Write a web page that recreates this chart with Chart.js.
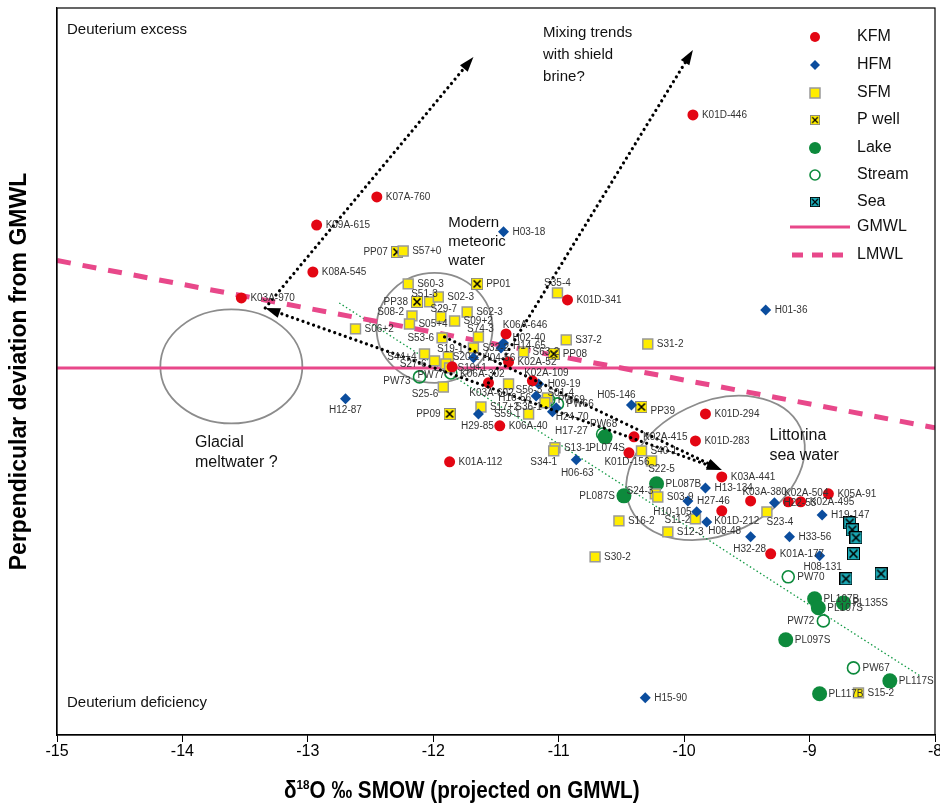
<!DOCTYPE html>
<html>
<head>
<meta charset="utf-8">
<script src="https://cdn.jsdelivr.net/npm/chart.js@4.4.0/dist/chart.umd.min.js"></script>
<style>body{margin:0;background:#fff}</style>
</head>
<body>
<canvas id="chart" width="940" height="805"></canvas>
<script>
// data (x = d18O projected, y = deviation from GMWL)
const kfmNames = ["K01D-446","K07A-760","K09A-615","K08A-545","K03A-970","K01D-341","K06A-646","K02A-52","K06A-302","K03A-602","K02A-109","K06A-40","K01A-112","K02A-415","K01D-156","K01D-294","K01D-283","K03A-441","K03A-380","K02A-504","K02A-495","K05A-91","K01D-212","K01A-177"];
const kfmX = [-9.93,-12.45,-12.93,-12.96,-13.53,-10.93,-11.42,-11.40,-11.85,-11.56,-11.21,-11.47,-11.87,-10.40,-10.44,-9.83,-9.91,-9.70,-9.47,-9.17,-9.07,-8.85,-9.70,-9.31];
const kfmY = [14.06,9.5,7.94,5.33,3.89,3.78,1.89,0.33,0.06,-0.83,-0.72,-3.22,-5.22,-3.83,-4.72,-2.56,-4.06,-6.06,-7.39,-7.44,-7.44,-7.0,-7.94,-10.33];

const hfmNames = ["H03-18","H01-36","H12-87","H02-40","H14-65","H04-56","H09-19","H16-56","H29-85","H24-70","H17-27","H05-146","H06-63","H13-134","H27-46","H10-105","H08-48","H32-28","H22-53","H19-147","H33-56","H08-131","H15-90"];
const hfmX = [-11.44,-9.35,-12.70,-11.44,-11.46,-11.68,-11.16,-11.18,-11.64,-11.02,-11.05,-10.42,-10.86,-9.83,-9.97,-9.90,-9.82,-9.47,-9.28,-8.90,-9.16,-8.92,-10.31];
const hfmY = [7.56,3.22,-1.72,1.39,1.11,0.56,-0.89,-1.56,-2.56,-2.22,-2.44,-2.06,-5.11,-6.67,-7.39,-8.0,-8.56,-9.39,-7.5,-8.17,-9.39,-10.44,-18.33];

const sfmNames = ["S60-3","S51-3","S02-3","S08-2","S05+4","S29-7","S09+2","S62-3","S06+2","S74-3","S53-6","S32-2","S44+4","S27-6","S19-1","S20-2","S19+1","S25-6","S56-3","S17+2","S59-1","S01-4","S36-1","S63-2","S37-2","S31-2","S35-4","S57+0","S13-1","S34-1","S40-1","S22-5","S24-3","S03-9","S11-2","S16-2","S12-3","S30-2","S23-4","S15-2"];
const sfmX = [-12.20,-12.03,-11.96,-12.17,-12.19,-11.94,-11.83,-11.73,-12.62,-11.64,-11.93,-11.68,-12.07,-11.99,-11.88,-11.90,-11.87,-11.92,-11.40,-11.62,-11.24,-11.09,-11.11,-11.28,-10.94,-10.29,-11.01,-12.24,-11.03,-11.04,-10.34,-10.26,-10.23,-10.21,-9.91,-10.52,-10.13,-10.71,-9.34,-8.61];
const sfmY = [4.67,3.67,3.94,2.89,2.44,2.83,2.61,3.11,2.17,1.72,1.67,1.11,0.78,0.39,0.61,0.22,0.0,-1.06,-0.89,-2.17,-2.56,-1.67,-1.94,0.89,1.56,1.33,4.17,6.5,-4.44,-4.61,-4.61,-5.17,-7.0,-7.17,-8.39,-8.5,-9.11,-10.5,-8.0,-18.06];

const pwellNames = ["PP07","PP38","PP01","PP08","PP09","PP39"];
const pwellX = [-12.29,-12.13,-11.65,-11.04,-11.87,-10.34];
const pwellY = [6.44,3.67,4.67,0.78,-2.56,-2.17];

const lakeNames = ["PL074S","PL087B","PL087S","PL107B","PL107S","PL135S","PL097S","PL117S","PL117B"];
const lakeX = [-10.63,-10.22,-10.48,-8.96,-8.93,-8.73,-9.19,-8.36,-8.92];
const lakeY = [-3.83,-6.44,-7.11,-12.83,-13.33,-13.06,-15.11,-17.39,-18.11];

const streamNames = ["PW73","PW77","PW69","PW66","PW68","PW70","PW72","PW67"];
const streamX = [-12.11,-11.86,-11.08,-11.01,-10.65,-9.17,-8.89,-8.65];
const streamY = [-0.5,-0.28,-1.78,-2.0,-3.67,-11.61,-14.06,-16.67];

const seaX = [-8.68,-8.66,-8.63,-8.65,-8.71,-8.43];
const seaY = [-8.61,-9.0,-9.44,-10.33,-11.72,-11.44];

// reference lines
const gmwlX = [-15, -8];
const gmwlY = [0, 0];
const lmwlX = [-15, -8];
const lmwlY = [5.97, -3.33];
const trendX = [-12.75, -8.12];
const trendY = [3.61, -17.11];

// label placement exceptions [dx, dy, align]; default is to the right
const labelPos = {
  "K03A-380": [14,-9,"center"], "K02A-504": [18,-9,"center"], "K06A-302": [8,7,"left"],
  "K03A-602": [3,10,"center"], "K02A-109": [14,-8,"center"], "K06A-646": [19,-9,"center"],
  "K01D-156": [-2,9,"center"], "K01D-212": [15,10,"center"],
  "H12-87": [0,11,"center"], "H02-40": [9,-5,"left"], "H14-65": [12,-2,"left"],
  "H16-56": [-5,2,"right"], "H29-85": [-1,12,"center"], "H24-70": [16,9,"center"],
  "H17-27": [19,19,"center"], "H05-146": [-15,-10,"center"], "H06-63": [1,13,"center"],
  "H10-105": [-5,0,"right"], "H08-48": [18,9,"center"], "H32-28": [-1,12,"center"],
  "H08-131": [3,11,"center"],
  "S51-3": [-5,-8,"center"], "S08-2": [-8,-4,"right"], "S29-7": [3,-8,"center"],
  "S74-3": [2,-8,"center"], "S53-6": [-8,0,"right"], "S44+4": [-8,3,"right"],
  "S27-6": [-8,3,"right"], "S19-1": [2,-8,"center"], "S20-2": [7,-7,"left"],
  "S19+1": [8,0,"left"], "S25-6": [-5,7,"right"], "S56-3": [7,6,"left"],
  "S59-1": [-8,0,"right"], "S01-4": [0,-5,"left"], "S36-1": [-3,4,"right"],
  "S35-4": [0,-10,"center"], "S34-1": [-10,11,"center"], "S22-5": [10,8,"center"],
  "S24-3": [-2,-3,"right"], "S11-2": [-5,1,"right"], "S23-4": [13,10,"center"],
  "PP07": [-9,0,"right"], "PP38": [-9,0,"right"], "PP09": [-9,0,"right"], "PP39": [9,4,"left"],
  "PL074S": [2,11,"center"], "PL087S": [-9,0,"right"],
  "PW73": [-9,4,"right"], "PW77": [-6,2,"right"], "PW68": [1,-10,"center"], "PW72": [-9,0,"right"]
};

function pts(names, xs, ys) {
  return xs.map((x, i) => ({ x: x, y: ys[i], name: names ? names[i] : null }));
}

function boxCross(size, fill, edge) {
  const c = document.createElement("canvas");
  c.width = size; c.height = size;
  const g = c.getContext("2d");
  g.fillStyle = fill;
  g.fillRect(0.5, 0.5, size - 1, size - 1);
  g.strokeStyle = edge;
  g.lineWidth = 1;
  g.strokeRect(0.5, 0.5, size - 1, size - 1);
  g.strokeStyle = "#000";
  g.lineWidth = 1.6;
  g.beginPath();
  g.moveTo(2.5, 2.5); g.lineTo(size - 2.5, size - 2.5);
  g.moveTo(size - 2.5, 2.5); g.lineTo(2.5, size - 2.5);
  g.stroke();
  return c;
}
const pwellIcon = boxCross(12, "#ffed00", "#888");
const seaIcon = boxCross(13, "#1ba9b5", "#000");

const txt = '"Liberation Sans", Arial, sans-serif';

// decorations: ellipses, arrows, notes, point labels, legend, frame
const deco = {
  id: "deco",
  beforeDatasetsDraw(chart) {
    const ctx = chart.ctx, xs = chart.scales.x, ys = chart.scales.y;
    const ell = (cx, cy, rx, ry, rot) => {
      ctx.beginPath();
      ctx.ellipse(xs.getPixelForValue(cx), ys.getPixelForValue(cy), rx, ry, rot, 0, Math.PI * 2);
      ctx.stroke();
    };
    ctx.save();
    ctx.strokeStyle = "#8c8c8c";
    ctx.lineWidth = 1.8;
    ell(-13.61, 0.08, 71, 57, 0);
    ell(-11.99, 2.22, 58, 55, 0);
    ell(-9.75, -5.56, 94, 66, -0.45);
    ctx.restore();
  },
  afterDatasetsDraw(chart) {
    const ctx = chart.ctx, xs = chart.scales.x, ys = chart.scales.y;
    const P = (x, y) => [xs.getPixelForValue(x), ys.getPixelForValue(y)];
    ctx.save();
    // dotted arrows
    const head = (from, to) => {
      const a = Math.atan2(to[1] - from[1], to[0] - from[0]);
      ctx.beginPath();
      ctx.moveTo(to[0], to[1]);
      ctx.lineTo(to[0] - 15 * Math.cos(a) + 5 * Math.sin(a), to[1] - 15 * Math.sin(a) - 5 * Math.cos(a));
      ctx.lineTo(to[0] - 15 * Math.cos(a) - 5 * Math.sin(a), to[1] - 15 * Math.sin(a) + 5 * Math.cos(a));
      ctx.closePath();
      ctx.fill();
    };
    const dotted = (a, b, headA, headB) => {
      const ang = Math.atan2(b[1] - a[1], b[0] - a[0]);
      const s = headA ? [a[0] + 12 * Math.cos(ang), a[1] + 12 * Math.sin(ang)] : a;
      const e = headB ? [b[0] - 12 * Math.cos(ang), b[1] - 12 * Math.sin(ang)] : b;
      ctx.beginPath();
      ctx.moveTo(s[0], s[1]);
      ctx.lineTo(e[0], e[1]);
      ctx.stroke();
      ctx.setLineDash([]);
      if (headA) head(b, a);
      if (headB) head(a, b);
      ctx.setLineDash([0.01, 5.6]);
    };
    ctx.strokeStyle = "#000";
    ctx.fillStyle = "#000";
    ctx.lineWidth = 3.2;
    ctx.lineCap = "round";
    ctx.setLineDash([0.01, 5.6]);
    const glacial = P(-13.34, 3.33);
    dotted(glacial, P(-11.68, 17.28), false, true);
    dotted(P(-11.56, -0.83), P(-9.93, 17.67), false, true);
    dotted(glacial, P(-9.70, -5.67), true, true);
    dotted(P(-11.91, 1.72), P(-9.70, -5.67), false, true);
    ctx.setLineDash([]);

    // notes
    ctx.fillStyle = "#111";
    ctx.textBaseline = "middle";
    ctx.textAlign = "left";
    const note = (t, x, y, size) => {
      ctx.font = size + "px " + txt;
      const p = P(x, y);
      ctx.fillText(t, p[0], p[1]);
    };
    note("Deuterium excess", -14.92, 18.78, 15);
    note("Deuterium deficiency", -14.92, -18.61, 15);
    note("Mixing trends", -11.125, 18.61, 15);
    note("with shield", -11.125, 17.39, 15);
    note("brine?", -11.125, 16.17, 15);
    note("Modern", -11.88, 8.06, 15);
    note("meteoric", -11.88, 7.0, 15);
    note("water", -11.88, 5.94, 15);
    note("Glacial", -13.90, -4.17, 16);
    note("meltwater ?", -13.90, -5.28, 16);
    note("Littorina", -9.32, -3.78, 16);
    note("sea water", -9.32, -4.89, 16);

    // point labels
    ctx.font = "10px " + txt;
    ctx.fillStyle = "#333";
    chart.data.datasets.forEach((ds, di) => {
      if (!ds.labelled) return;
      chart.getDatasetMeta(di).data.forEach((el, i) => {
        const name = ds.data[i].name;
        const p = labelPos[name] || [9, 0, "left"];
        ctx.textAlign = p[2];
        ctx.fillText(name, el.x + p[0], el.y + p[1]);
      });
    });
    ctx.restore();
  },
  afterDraw(chart) {
    const ctx = chart.ctx, a = chart.chartArea, xs = chart.scales.x;
    ctx.save();
    ctx.strokeStyle = "#000";
    ctx.lineWidth = 1.2;
    ctx.strokeRect(a.left, a.top, a.right - a.left, a.bottom - a.top);

    // last tick label sits on the canvas edge, as in the figure
    ctx.fillStyle = "#000";
    ctx.font = "16px " + txt;
    ctx.textAlign = "center";
    ctx.textBaseline = "top";
    ctx.fillText("-8", xs.getPixelForValue(-8), a.bottom + 9);

    // x axis title with superscript, condensed bold
    ctx.textBaseline = "alphabetic";
    ctx.translate(284, 798);
    ctx.scale(0.9, 1);
    ctx.textAlign = "left";
    ctx.font = "bold 23px " + txt;
    let x = 0;
    ctx.fillText("\u03b4", x, 0); x += ctx.measureText("\u03b4").width;
    ctx.font = "bold 13px " + txt;
    ctx.fillText("18", x, -9); x += ctx.measureText("18").width;
    ctx.font = "bold 23px " + txt;
    ctx.fillText("O \u2030 SMOW (projected on GMWL)", x, 0);
    ctx.setTransform(1, 0, 0, 1, 0, 0);

    // legend
    const lx = 815, tx = 857;
    const rows = [37, 65, 93, 120, 148, 175, 202, 227, 255];
    const names = ["KFM", "HFM", "SFM", "P well", "Lake", "Stream", "Sea", "GMWL", "LMWL"];
    ctx.font = "16px " + txt;
    ctx.fillStyle = "#111";
    ctx.textBaseline = "middle";
    ctx.textAlign = "left";
    names.forEach((n, i) => ctx.fillText(n, tx, rows[i]));
    const ds = chart.data.datasets;
    for (let i = 0; i < 7; i++) {
      const d = ds[i];
      const r = d.legendRadius;
      ctx.fillStyle = d.backgroundColor;
      ctx.strokeStyle = d.borderColor;
      ctx.lineWidth = d.borderWidth;
      ctx.beginPath();
      if (d.pointStyle === "circle") {
        ctx.arc(lx, rows[i], r, 0, Math.PI * 2);
        if (d.backgroundColor !== "rgba(0,0,0,0)") ctx.fill();
        if (d.borderWidth) ctx.stroke();
      } else if (d.pointStyle === "rectRot") {
        ctx.moveTo(lx, rows[i] - r); ctx.lineTo(lx + r, rows[i]);
        ctx.lineTo(lx, rows[i] + r); ctx.lineTo(lx - r, rows[i]); ctx.closePath();
        ctx.fill();
      } else if (d.pointStyle === "rect") {
        ctx.rect(lx - 5, rows[i] - 5, 10, 10);
        ctx.fill(); ctx.stroke();
      } else {
        ctx.drawImage(d.pointStyle, lx - 5, rows[i] - 5, 10, 10);
      }
    }
    ctx.strokeStyle = "#e8488a";
    ctx.lineWidth = 3;
    ctx.beginPath(); ctx.moveTo(790, rows[7]); ctx.lineTo(850, rows[7]); ctx.stroke();
    ctx.lineWidth = 5;
    ctx.setLineDash([11, 9]);
    ctx.beginPath(); ctx.moveTo(792, rows[8]); ctx.lineTo(846, rows[8]); ctx.stroke();
    ctx.restore();
  }
};

new Chart(document.getElementById("chart"), {
  type: "scatter",
  data: {
    datasets: [
      { label: "KFM", data: pts(kfmNames, kfmX, kfmY), labelled: true, pointStyle: "circle",
        pointRadius: 5.5, legendRadius: 5, backgroundColor: "#e30613", borderColor: "#e30613", borderWidth: 0 },
      { label: "HFM", data: pts(hfmNames, hfmX, hfmY), labelled: true, pointStyle: "rectRot",
        pointRadius: 5.5, legendRadius: 5, backgroundColor: "#0b4d9e", borderColor: "#0b4d9e", borderWidth: 0 },
      { label: "SFM", data: pts(sfmNames, sfmX, sfmY), labelled: true, pointStyle: "rect",
        pointRadius: 7, legendRadius: 7, backgroundColor: "#ffed00", borderColor: "#999", borderWidth: 1.5 },
      { label: "P well", data: pts(pwellNames, pwellX, pwellY), labelled: true, pointStyle: pwellIcon,
        pointRadius: 6, legendRadius: 6, backgroundColor: "#ffed00", borderColor: "#888", borderWidth: 1 },
      { label: "Lake", data: pts(lakeNames, lakeX, lakeY), labelled: true, pointStyle: "circle",
        pointRadius: 7.5, legendRadius: 6, backgroundColor: "#0d8a3c", borderColor: "#0d8a3c", borderWidth: 0 },
      { label: "Stream", data: pts(streamNames, streamX, streamY), labelled: true, pointStyle: "circle",
        pointRadius: 6, legendRadius: 5, backgroundColor: "rgba(0,0,0,0)", borderColor: "#0d8a3c", borderWidth: 1.6 },
      { label: "Sea", data: pts(null, seaX, seaY), labelled: false, pointStyle: seaIcon,
        pointRadius: 6.5, legendRadius: 6, backgroundColor: "#1ba9b5", borderColor: "#000", borderWidth: 1 },
      { label: "GMWL", data: pts(null, gmwlX, gmwlY), showLine: true, pointRadius: 0,
        borderColor: "#e8488a", borderWidth: 3, order: 10 },
      { label: "LMWL", data: pts(null, lmwlX, lmwlY), showLine: true, pointRadius: 0,
        borderColor: "#e8488a", borderWidth: 5, borderDash: [14, 12], order: 10 },
      { label: "trend", data: pts(null, trendX, trendY), showLine: true, pointRadius: 0,
        borderColor: "#139a45", borderWidth: 1.3, borderDash: [1.5, 2.5], order: 10 }
    ]
  },
  options: {
    responsive: false,
    animation: false,
    layout: { autoPadding: false, padding: { top: 8, right: 5, left: 0, bottom: 0 } },
    plugins: { legend: { display: false }, tooltip: { enabled: false } },
    scales: {
      x: {
        min: -15, max: -8,
        ticks: { stepSize: 1, color: "#000", padding: 0, font: { family: txt, size: 16 },
          callback: (v) => (v === -8 ? "" : v) },
        grid: { drawOnChartArea: false, drawTicks: true, tickLength: 7, color: "#000" },
        border: { color: "#000", width: 1.2 },
        title: { display: false },
        afterFit: (s) => { s.height = 70; }
      },
      y: {
        min: -20.4, max: 20,
        ticks: { display: false },
        grid: { display: false },
        border: { color: "#000", width: 1.2 },
        title: { display: true, text: "Perpendicular deviation from GMWL", color: "#000",
          padding: { top: 6, bottom: 0 }, font: { family: txt, size: 23, weight: "bold" } },
        afterFit: (s) => { s.width = 57; }
      }
    }
  },
  plugins: [deco]
});
</script>
</body>
</html>
